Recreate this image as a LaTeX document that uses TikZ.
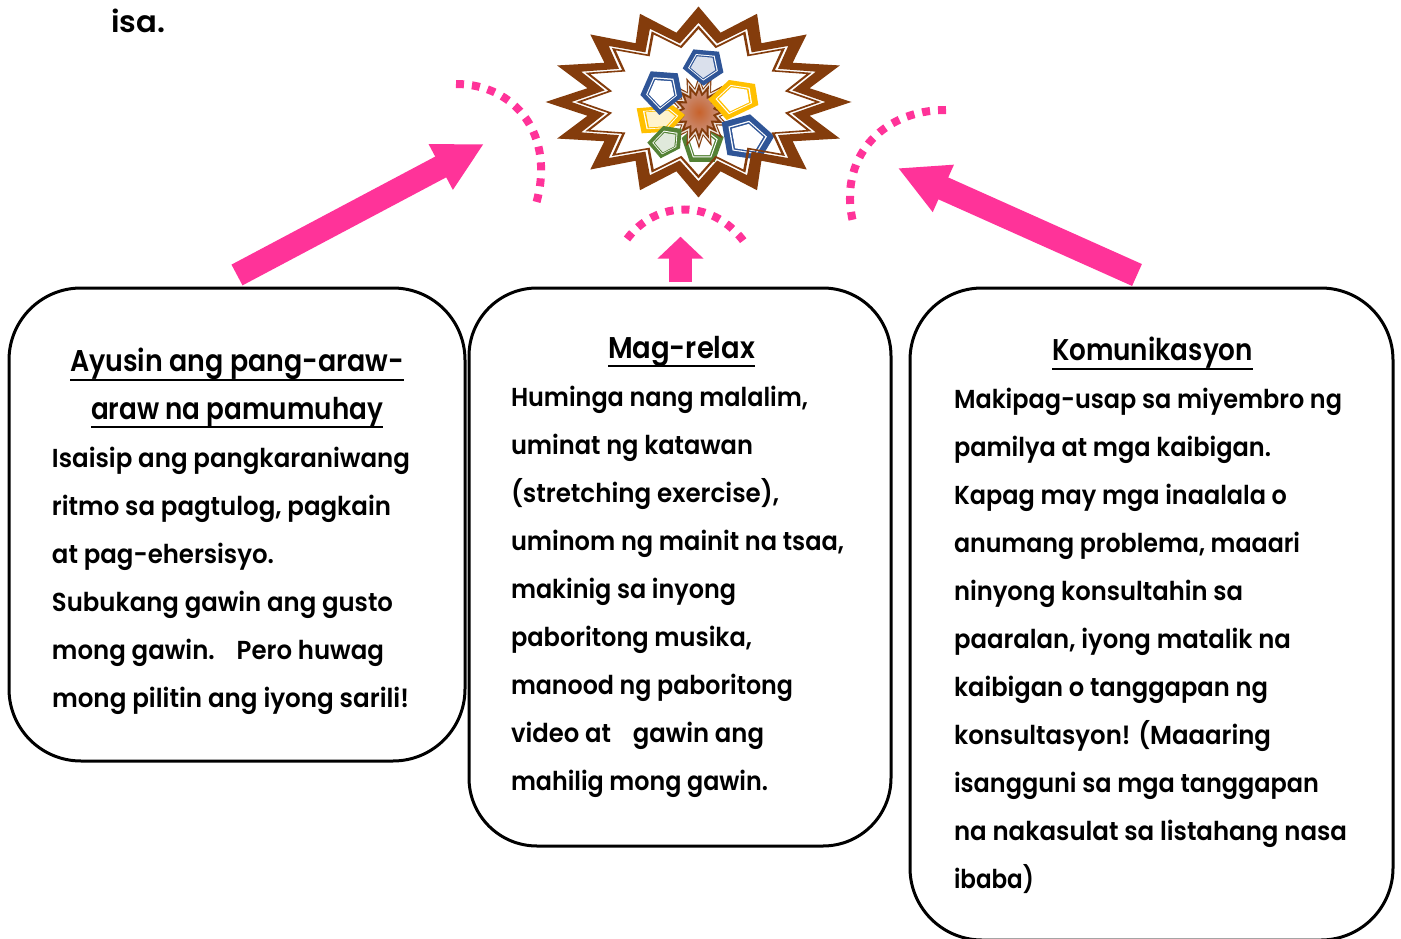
\documentclass[tikz,border=0pt]{standalone}
\usepackage{fontspec}
\usepackage{graphicx}
\setmainfont{Poppins}[UprightFont=* SemiBold,BoldFont=* SemiBold]
\usetikzlibrary{arrows.meta}
\definecolor{pinkc}{HTML}{FF3399}
\definecolor{brownc}{HTML}{843C0C}
\definecolor{bluec}{HTML}{2F5597}
\definecolor{yellowc}{HTML}{FFC000}
\definecolor{greenc}{HTML}{548235}
\definecolor{burstcore}{HTML}{C8622B}
\definecolor{burstedge}{HTML}{C9907A}
\newcommand{\fl}[2]{\rule{0pt}{20pt}\resizebox{#1pt}{\height}{#2}}
\newcommand{\ttl}[2]{\makebox[0pt][l]{\rule[-9pt]{#1pt}{2pt}}\rule{0pt}{22pt}\resizebox{#1pt}{\height}{#2}}
% centre x, centre y, half width, half height, tip ratio, valley ratio
\newcommand{\starp}[6]{plot[samples at={0,...,31},variable=\k]
  ({#1+#3*ifthenelse(mod(\k,2)==0,#5,#6)*sin(\k*11.25)},
   {#2-#4*ifthenelse(mod(\k,2)==0,#5,#6)*cos(\k*11.25)}) -- cycle}
\newcommand{\penta}[5]{\begin{scope}[shift={(#1,#2)}]
  \fill[#3] #5;
  \fill[white,scale=.73] #5;
  \fill[#3,scale=.67] #5;
  \fill[#4,scale=.60] #5;
\end{scope}}
\tikzset{
  x=1pt,y=-1pt,
  card/.style={draw=black,line width=3pt,fill=white,inner sep=0pt,outer sep=0pt},
  bodytext/.style={anchor=north west,inner sep=0pt,outer sep=0pt,align=left,text=black,
    font=\fontsize{26}{48}\selectfont},
  headtext/.style={anchor=north west,inner sep=0pt,outer sep=0pt,align=left,text=black,
    font=\fontsize{30}{48}\selectfont},
  bigarrow/.style={draw=pinkc,fill=pinkc},
  dotarc/.style={draw=pinkc,line width=8pt,dash pattern=on 8pt off 8pt},
}
\begin{document}
\begin{tikzpicture}
\useasboundingbox (0,0) rectangle (1401,939);
\fill[white] (0,0) rectangle (1401,939);
\node[bodytext,font=\fontsize{30}{48}\bfseries\selectfont] (isa) at (111,9) {\rule{0pt}{22pt}\resizebox{54pt}{\height}{isa.}};

% burst star: fills first, then figures, then rings
\begin{scope}
\penta{701.7}{145}{greenc}{white}{(-20,-7) -- (0,-25) -- (22,-8) -- (13,17) -- (-12,17) -- cycle}
\fill[brownc] \starp{699}{112}{33}{37}{1}{.65};
\fill[brownc!15] \starp{699}{112}{33}{37}{.88}{.6};
\fill[brownc] \starp{699}{112}{33}{37}{.78}{.52};
\shade[inner color=burstcore,outer color=burstedge] \starp{699}{112}{33}{37}{.6}{.42};
\penta{660}{118.3}{yellowc}{yellowc!20}{(-23.3,-10) -- (13,-13) -- (25,-3.3) -- (10,13.3) -- (-18.3,15) -- cycle}
\penta{661.7}{93.3}{bluec}{white}{(-11,-22) -- (16,-20) -- (20.7,3.3) -- (-2.3,21.7) -- (-21.3,1.7) -- cycle}
\penta{702.7}{66.7}{bluec}{bluec!18}{(-9.3,-17.3) -- (16.3,-15) -- (20.7,5.7) -- (.7,19) -- (-20,1.7) -- cycle}
\penta{735}{98.3}{yellowc}{white}{(-6,-18.3) -- (20,-14.3) -- (23.3,6.7) -- (-8.3,21.7) -- (-26.7,1) -- cycle}
\penta{666}{143.3}{greenc}{greenc!18}{(-2.7,-17.3) -- (15.7,-14.3) -- (14,5) -- (-5.3,15) -- (-18.7,-.7) -- cycle}
\penta{746.7}{138.3}{bluec}{white}{(3.3,-24) -- (27.7,-2.3) -- (13.3,21.7) -- (-19.3,16.7) -- (-25,-16) -- cycle}
\fill[brownc,even odd rule] \starp{698.5}{102}{153}{95.5}{1}{.74} \starp{698.5}{102}{153}{95.5}{.83}{.625};
\fill[brownc,even odd rule] \starp{698.5}{102}{153}{95.5}{.80}{.60} \starp{698.5}{102}{153}{95.5}{.765}{.575};
\end{scope}

% dotted arcs
\coordinate (d1a) at (456,84); \coordinate (d1b) at (536,204);
\draw[dotarc] (d1a) .. controls (515,84) and (556,135) .. (d1b);
\coordinate (d2a) at (627,239); \coordinate (d2b) at (745,243);
\draw[dotarc] (d2a) .. controls (655,201) and (712,197) .. (d2b);
\coordinate (d3a) at (946,110); \coordinate (d3b) at (853,222);
\draw[dotarc] (d3a) .. controls (880,110) and (838,160) .. (d3b);

% cards
\node[card,rounded corners=72pt,minimum width=456pt,minimum height=473pt] (box1) at (237,524.5) {};
\node[card,rounded corners=68pt,minimum width=422pt,minimum height=558pt] (box2) at (680,567) {};
\node[card,rounded corners=72pt,minimum width=483pt,minimum height=652pt] (box3) at (1151.5,614) {};

% arrows
\coordinate (a1s) at (237,275); \coordinate (a1e) at (484,144);
\draw[bigarrow,line width=23.5pt,-{Triangle[length=49pt,width=48pt]}] (a1s) -- (a1e);
\coordinate (a2s) at (680.5,282); \coordinate (a2e) at (680.5,236.7);
\draw[bigarrow,line width=23pt,-{Triangle[length=22pt,width=45pt]}] (a2s) -- (a2e);
\coordinate (a3s) at (1137,275); \coordinate (a3e) at (897.7,168);
\draw[bigarrow,line width=24pt,-{Triangle[length=50pt,width=48pt]}] (a3s) -- (a3e);

% left card
\node[headtext] (t1a) at (70,348) {\ttl{334}{Ayusin ang pang-araw-}};
\node[headtext] (t1b) at (91,397) {\ttl{292}{araw na pamumuhay}};
\node[bodytext] (b1) at (52,447) {%
\fl{358}{Isaisip ang pangkaraniwang}\\
\fl{339}{ritmo sa pagtulog, pagkain}\\
\fl{222}{at pag-ehersisyo.}\\
\fl{341}{Subukang gawin ang gusto}\\
\fl{332}{mong gawin.\hspace{.9em}Pero huwag}\\
\fl{357}{mong pilitin ang iyong sarili!}};

% middle card
\node[headtext] (t2) at (608,336) {\ttl{147}{Mag-relax}};
\node[bodytext] (b2) at (511,386) {%
\fl{297}{Huminga nang malalim,}\\
\fl{242}{uminat ng katawan}\\
\fl{268}{(stretching exercise),}\\
\fl{333}{uminom ng mainit na tsaa,}\\
\fl{225}{makinig sa inyong}\\
\fl{241}{paboritong musika,}\\
\fl{282}{manood ng paboritong}\\
\fl{253}{video at\hspace{.9em}gawin ang}\\
\fl{257}{mahilig mong gawin.}};

% right card
\node[headtext] (t3) at (1052,337) {\ttl{201}{Komunikasyon}};
\node[bodytext] (b3) at (954,388) {%
\fl{388}{Makipag-usap sa miyembro ng}\\
\fl{317}{pamilya at mga kaibigan.}\\
\fl{333}{Kapag may mga inaalala o}\\
\fl{346}{anumang problema, maaari}\\
\fl{289}{ninyong konsultahin sa}\\
\fl{337}{paaralan, iyong matalik na}\\
\fl{314}{kaibigan o tanggapan ng}\\
\fl{317}{konsultasyon! (Maaaring}\\
\fl{365}{isangguni sa mga tanggapan}\\
\fl{393}{na nakasulat sa listahang nasa}\\
\fl{80}{ibaba)}};
\end{tikzpicture}
\end{document}
